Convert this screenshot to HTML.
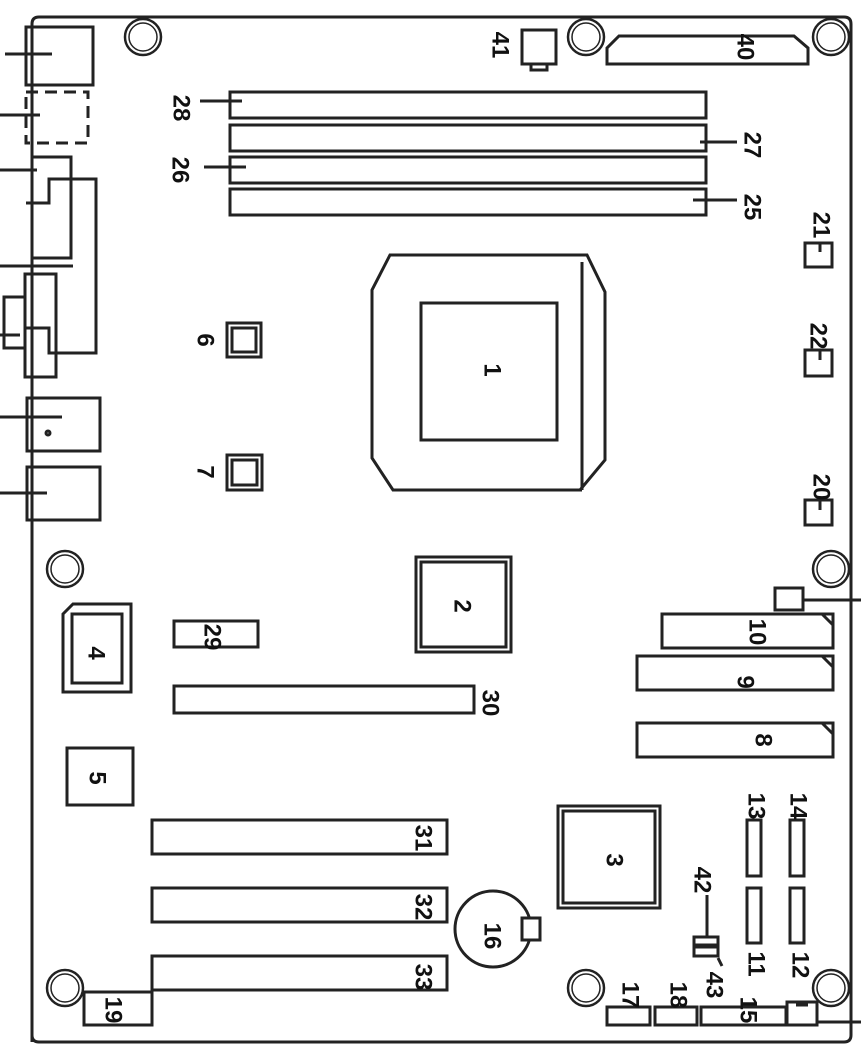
<!DOCTYPE html>
<html><head><meta charset="utf-8"><style>html,body{margin:0;padding:0;background:#fff}svg{display:block}</style></head>
<body>
<svg width="861" height="1053" viewBox="0 0 861 1053" xmlns="http://www.w3.org/2000/svg">
<g fill="none" stroke="#222" stroke-width="3">
<path d="M32,1042 V24 Q32,17 39,17 H844 Q851,17 851,24 V1035 Q851,1042 844,1042 H39 Q32,1042 32,1035"/>
<g stroke-width="2.5">
<circle cx="143" cy="37" r="18"/><circle cx="143" cy="37" r="14" stroke-width="1.5"/>
<circle cx="586" cy="37" r="18"/><circle cx="586" cy="37" r="14" stroke-width="1.5"/>
<circle cx="831" cy="37" r="18"/><circle cx="831" cy="37" r="14" stroke-width="1.5"/>
<circle cx="65" cy="569" r="18"/><circle cx="65" cy="569" r="14" stroke-width="1.5"/>
<circle cx="831" cy="569" r="18"/><circle cx="831" cy="569" r="14" stroke-width="1.5"/>
<circle cx="65" cy="988" r="18"/><circle cx="65" cy="988" r="14" stroke-width="1.5"/>
<circle cx="586" cy="988" r="18"/><circle cx="586" cy="988" r="14" stroke-width="1.5"/>
<circle cx="831" cy="988" r="18"/><circle cx="831" cy="988" r="14" stroke-width="1.5"/>
</g>
<!-- left IO -->
<rect x="26" y="27" width="67" height="58"/><line x1="5" y1="54" x2="52" y2="54"/>
<path d="M26,92 H88 V143 H26 Z" stroke-dasharray="12,7"/><line x1="0" y1="115" x2="40" y2="115"/>
<line x1="0" y1="170" x2="37" y2="170"/>
<rect x="32" y="157" width="39" height="101"/>
<path d="M26,203 H49 V179 H96 V353 H49 V328 H26"/>
<rect x="25" y="274" width="31" height="103"/>
<line x1="0" y1="266" x2="73" y2="266"/>
<rect x="4" y="297" width="21" height="51"/><line x1="0" y1="335" x2="20" y2="335"/>
<rect x="27" y="398" width="73" height="53"/><line x1="0" y1="417" x2="62" y2="417"/>
<circle cx="48" cy="433" r="2"/>
<rect x="27" y="467" width="73" height="53"/><line x1="0" y1="493" x2="47" y2="493"/>
<!-- top -->
<rect x="522" y="30" width="34" height="34"/><rect x="531" y="64" width="16" height="6"/>
<path d="M607,64 V48 L619,36 H794 L808,48 V64 Z"/>
<!-- DIMMs -->
<rect x="230" y="92" width="476" height="26"/>
<rect x="230" y="125" width="476" height="26"/>
<rect x="230" y="157" width="476" height="26"/>
<rect x="230" y="189" width="476" height="26"/>
<line x1="200" y1="101" x2="242" y2="101"/><line x1="204" y1="167" x2="246" y2="167"/>
<line x1="700" y1="142" x2="737" y2="142"/><line x1="693" y1="200" x2="737" y2="200"/>
<!-- CPU -->
<path d="M390,255 H587 L605,292 V460 L580,490 H393 L372,458 V290 Z"/>
<line x1="582" y1="262" x2="582" y2="490"/><line x1="538" y1="490" x2="582" y2="490"/>
<rect x="421" y="303" width="136" height="137"/>
<!-- chips -->
<rect x="227" y="323" width="34" height="34"/><rect x="232" y="328" width="24" height="24"/>
<rect x="227" y="455" width="35" height="35"/><rect x="232" y="460" width="25" height="25"/>
<rect x="416" y="557" width="95" height="95"/><rect x="421" y="562" width="85" height="85"/>
<rect x="558" y="806" width="102" height="102"/><rect x="563" y="811" width="92" height="92"/>
<path d="M63,614 L73,604 H131 V692 H63 Z"/><rect x="72" y="614" width="50" height="69"/>
<rect x="67" y="748" width="66" height="57"/>
<rect x="174" y="621" width="84" height="26"/>
<rect x="174" y="686" width="300" height="27"/>
<rect x="152" y="820" width="295" height="34"/>
<rect x="152" y="888" width="295" height="34"/>
<rect x="152" y="956" width="295" height="34"/>
<rect x="84" y="992" width="68" height="33"/>
<circle cx="493" cy="929" r="38"/><rect x="522" y="918" width="18" height="22" fill="#fff"/>
<!-- right -->
<rect x="805" y="243" width="27" height="24"/><line x1="820" y1="243" x2="820" y2="252"/>
<rect x="805" y="350" width="27" height="26"/><line x1="820" y1="350" x2="820" y2="360"/>
<rect x="805" y="500" width="27" height="25"/><line x1="820" y1="500" x2="820" y2="510"/>
<rect x="775" y="588" width="28" height="22"/><line x1="803" y1="600" x2="861" y2="600"/>
<path d="M662,614 H833 V648 H662 Z M822,614 L833,625"/>
<path d="M637,656 H833 V690 H637 Z M822,656 L833,667"/>
<path d="M637,723 H833 V757 H637 Z M822,723 L833,734"/>
<rect x="747" y="820" width="14" height="56"/><rect x="747" y="888" width="14" height="55"/>
<rect x="790" y="820" width="14" height="56"/><rect x="790" y="888" width="14" height="55"/>
<line x1="707" y1="895" x2="707" y2="937"/>
<rect x="694" y="937" width="24" height="8"/><rect x="694" y="947" width="24" height="9"/>
<line x1="718" y1="958" x2="722" y2="966"/>
<rect x="607" y="1007" width="43" height="18"/><rect x="655" y="1007" width="42" height="18"/>
<rect x="701" y="1007" width="85" height="18"/><rect x="787" y="1002" width="30" height="23"/>
<line x1="796" y1="1005" x2="808" y2="1005"/>
<line x1="817" y1="1022" x2="861" y2="1022"/>
</g>
<g font-family="Liberation Sans, sans-serif" font-weight="bold" font-size="24" fill="#111" text-anchor="middle" dominant-baseline="central">
<text transform="translate(181,108) rotate(90)">28</text>
<text transform="translate(752,145) rotate(90)">27</text>
<text transform="translate(180,170) rotate(90)">26</text>
<text transform="translate(752,207) rotate(90)">25</text>
<text transform="translate(500,45) rotate(90)">41</text>
<text transform="translate(745,47) rotate(90)">40</text>
<text transform="translate(492,370) rotate(90)">1</text>
<text transform="translate(205,340) rotate(90)">6</text>
<text transform="translate(205,472) rotate(90)">7</text>
<text transform="translate(462,606) rotate(90)">2</text>
<text transform="translate(614,860) rotate(90)">3</text>
<text transform="translate(96,653) rotate(90)">4</text>
<text transform="translate(97,778) rotate(90)">5</text>
<text transform="translate(212,637) rotate(90)">29</text>
<text transform="translate(490,703) rotate(90)">30</text>
<text transform="translate(423,838) rotate(90)">31</text>
<text transform="translate(423,907) rotate(90)">32</text>
<text transform="translate(423,977) rotate(90)">33</text>
<text transform="translate(113,1010) rotate(90)">19</text>
<text transform="translate(492,936) rotate(90)">16</text>
<text transform="translate(821,225) rotate(90)">21</text>
<text transform="translate(818,336) rotate(90)">22</text>
<text transform="translate(821,487) rotate(90)">20</text>
<text transform="translate(757,632) rotate(90)">10</text>
<text transform="translate(745,682) rotate(90)">9</text>
<text transform="translate(763,740) rotate(90)">8</text>
<text transform="translate(756,806) rotate(90)">13</text>
<text transform="translate(798,806) rotate(90)">14</text>
<text transform="translate(756,964) rotate(90)">11</text>
<text transform="translate(800,965) rotate(90)">12</text>
<text transform="translate(702,880) rotate(90)">42</text>
<text transform="translate(714,985) rotate(90)">43</text>
<text transform="translate(630,995) rotate(90)">17</text>
<text transform="translate(678,995) rotate(90)">18</text>
<text transform="translate(748,1010) rotate(90)">15</text>
</g>
</svg>
</body></html>
